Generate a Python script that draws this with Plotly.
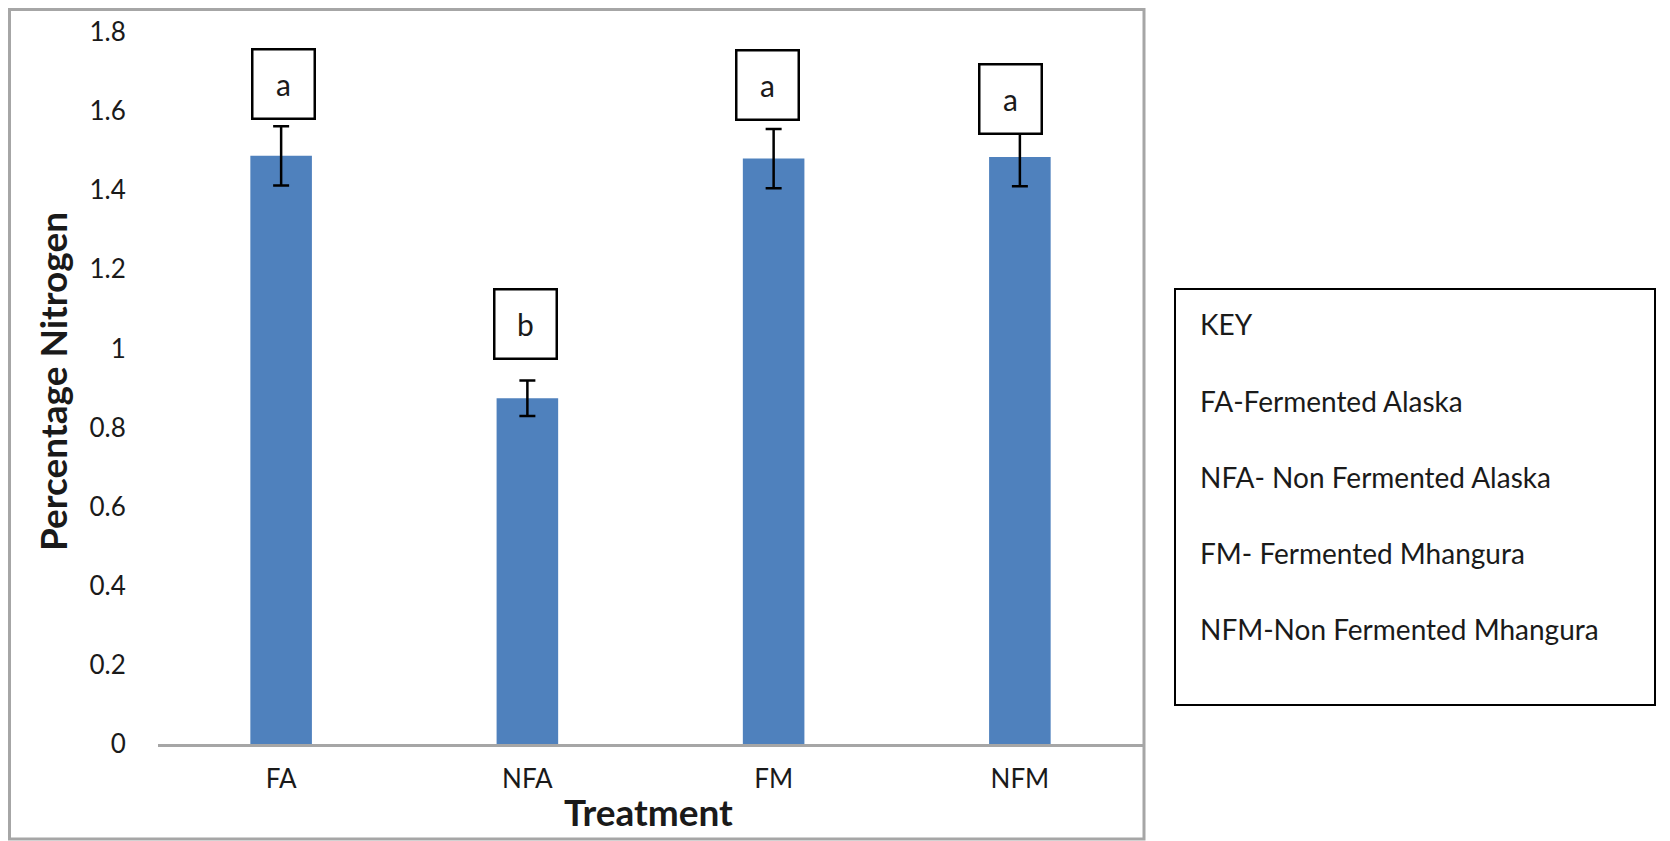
import plotly.graph_objects as go

# ---- data ----
categories = ["FA", "NFA", "FM", "NFM"]
values = [1.487, 0.874, 1.480, 1.484]
errors = [0.075, 0.045, 0.075, 0.074]
letters = ["a", "b", "a", "a"]
letter_y = [1.668, 1.062, 1.666, 1.631]
letter_xshift = [2, -2, -6, -9]
y_ticks = [0, 0.2, 0.4, 0.6, 0.8, 1, 1.2, 1.4, 1.6, 1.8]
key_title = "KEY"
key_lines = ["FA-Fermented Alaska", "NFA- Non Fermented Alaska",
             "FM- Fermented Mhangura", "NFM-Non Fermented Mhangura"]

OFF = 8  # default page body margin
W, H = 1670 - OFF, 841 - OFF
L, R, T, B = 158 - OFF, 1143 - OFF, 32 - OFF, 744 - OFF
FONT = "Lato"


def px(x):
    return (x - OFF - L) / (R - L)


def py(y):
    return (B - (y - OFF)) / (B - T)


fig = go.Figure()
fig.add_trace(go.Bar(
    x=categories, y=values,
    marker=dict(color="#4f81bd", line=dict(width=0)),
    width=0.25,
    error_y=dict(type="data", array=errors, visible=True,
                 color="black", thickness=2.5, width=8),
    showlegend=False,
))

annotations = []
for c, t, yv, xs in zip(categories, letters, letter_y, letter_xshift):
    annotations.append(dict(
        x=c, y=yv, xref="x", yref="y", text=t, showarrow=False,
        xshift=xs, width=60, height=67, borderpad=0,
        bordercolor="black", borderwidth=2.5, bgcolor="white",
        font=dict(family=FONT, size=30, color="#1a1a1a"),
        xanchor="center", yanchor="middle", valign="middle",
    ))

# axis titles
annotations.append(dict(
    x=px(52), y=py(382), xref="paper", yref="paper",
    text="<b>Percentage Nitrogen</b>", textangle=-90, showarrow=False,
    font=dict(family=FONT, size=37, color="#1a1a1a"),
    xanchor="center", yanchor="middle"))
annotations.append(dict(
    x=px(648), y=py(811), xref="paper", yref="paper",
    text="<b>Treatment</b>", showarrow=False,
    font=dict(family=FONT, size=37, color="#1a1a1a"),
    xanchor="center", yanchor="middle"))

# key box text
key_y = [323, 400, 476, 552, 628]
for txt, yy in zip([key_title] + key_lines, key_y):
    annotations.append(dict(
        x=px(1198), y=py(yy + 1), xref="paper", yref="paper",
        text=txt, showarrow=False,
        font=dict(family=FONT, size=28, color="#1a1a1a"),
        xanchor="left", yanchor="middle"))

shapes = [
    # outer chart border
    dict(type="rect", xref="paper", yref="paper",
         x0=px(9.5), x1=px(1144), y0=py(839), y1=py(9.5),
         line=dict(color="#a6a6a6", width=3), layer="above"),
    # key box
    dict(type="rect", xref="paper", yref="paper",
         x0=px(1175), x1=px(1655), y0=py(705), y1=py(289),
         line=dict(color="black", width=2)),
]

fig.update_layout(
    width=W, height=H,
    margin=dict(l=L, r=W - R, t=T, b=H - B, autoexpand=False),
    paper_bgcolor="white", plot_bgcolor="white",
    bargap=0.75,
    annotations=annotations, shapes=shapes,
    font=dict(family=FONT, color="#1a1a1a"),
    xaxis=dict(
        showline=True, linecolor="#a6a6a6", linewidth=2.5,
        ticks="outside", ticklen=10, tickcolor="rgba(0,0,0,0)",
        tickfont=dict(family=FONT, size=26, color="#1a1a1a"),
        showgrid=False, zeroline=False, fixedrange=True,
    ),
    yaxis=dict(
        range=[0, 1.8], tickvals=y_ticks,
        ticktext=[str(v) for v in y_ticks],
        showline=False, showgrid=False, zeroline=False,
        ticks="outside", ticklen=26, tickcolor="rgba(0,0,0,0)",
        tickfont=dict(family=FONT, size=26, color="#1a1a1a"),
    ),
)

fig.write_html("out.html")
